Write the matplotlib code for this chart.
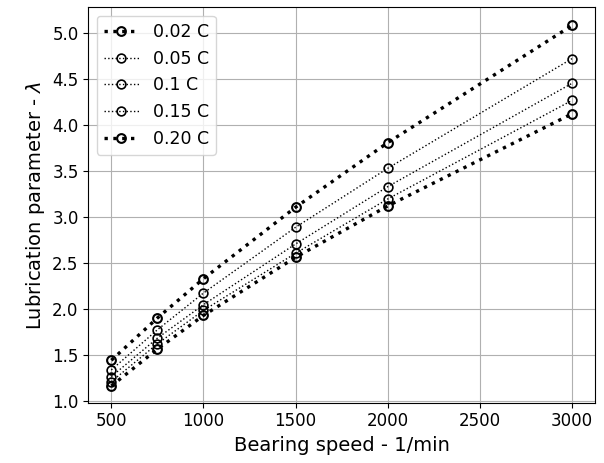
import numpy as np
import matplotlib.pyplot as plt

speed = [500, 750, 1000, 1500, 2000, 3000]
labels = ['0.02 C', '0.05 C', '0.1 C', '0.15 C', '0.20 C']
lam_002 = [1.440, 1.900, 2.328, 3.106, 3.809, 5.085]
lam_005 = [1.335, 1.772, 2.172, 2.888, 3.530, 4.724]
lam_010 = [1.262, 1.681, 2.045, 2.706, 3.330, 4.455]
lam_015 = [1.207, 1.619, 1.983, 2.605, 3.196, 4.269]
lam_020 = [1.160, 1.561, 1.928, 2.561, 3.120, 4.123]

series = [lam_002, lam_005, lam_010, lam_015, lam_020]
widths = [2.4, 1.0, 1.0, 1.0, 2.4]

fig = plt.figure(figsize=(6.04, 4.63), dpi=100)
ax = fig.add_axes([88.3/604, 1 - 402.7/463, (595-88.3)/604, (402.7-7.3)/463])

for lam, lab, lw in zip(series, labels, widths):
    ax.plot(speed, lam, ':', color='k', lw=lw, marker='o', mfc='none',
            mec='k', ms=6.3, mew=1.5 if lw > 2 else 1.2, label=lab)

ax.set_xlim(375, 3125)
ax.set_ylim(0.978, 5.283)
ax.set_xticks([500, 1000, 1500, 2000, 2500, 3000])
ax.set_yticks(np.arange(1.0, 5.01, 0.5))
ax.tick_params(labelsize=12)
ax.grid(True)
ax.set_xlabel('Bearing speed - 1/min', fontsize=14)
ax.set_ylabel(r'Lubrication parameter - $\lambda$', fontsize=14)
ax.legend(loc='upper left', fontsize=12.5)

fig.savefig('out.png', dpi=100)
